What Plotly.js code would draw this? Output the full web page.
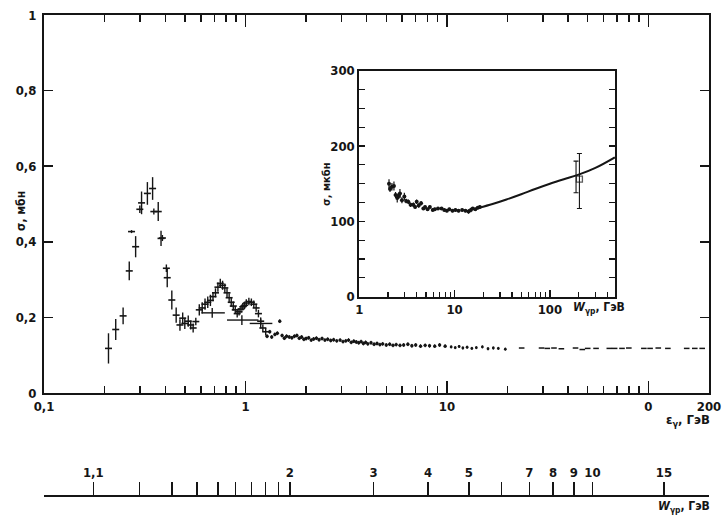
<!DOCTYPE html>
<html>
<head>
<meta charset="utf-8">
<script src="https://cdn.plot.ly/plotly-3.0.1.min.js"></script>
<style>html,body{margin:0;padding:0;background:#fff;}#chart{width:728px;height:532px;}</style>
</head>
<body>
<div id="chart"></div>
<script>
// ---------- data ----------
// main plot: low-energy resonance region, photon energy E (GeV), sigma (mb), error (mb)
const lowE = [0.209,0.227,0.247,0.265,0.272,0.285,0.299,0.305,0.326,0.346,0.351,0.369,0.381,0.387,0.405,0.409,0.431,0.453,0.473,0.488,0.50,0.52,0.535,0.55,0.567,0.59,0.61,0.63,0.65,0.67,0.69,0.71,0.73,0.75,0.77,0.79,0.81,0.83,0.85,0.87,0.89,0.91,0.93,0.95,0.97,0.99,1.01,1.04,1.07,1.10,1.13,1.16,1.19,1.22,1.26];
const lowS = [0.118,0.168,0.204,0.323,0.427,0.387,0.486,0.503,0.528,0.541,0.480,0.480,0.409,0.410,0.330,0.305,0.246,0.206,0.180,0.198,0.184,0.190,0.180,0.172,0.189,0.220,0.225,0.235,0.240,0.245,0.255,0.265,0.280,0.290,0.285,0.278,0.265,0.252,0.240,0.230,0.220,0.210,0.215,0.222,0.228,0.232,0.238,0.242,0.240,0.235,0.225,0.210,0.190,0.172,0.162];
const lowErr = [0.040,0.028,0.022,0.025,0.004,0.028,0.010,0.030,0.030,0.030,0.008,0.025,0.020,0.008,0.010,0.025,0.025,0.020,0.015,0.015,0.015,0.015,0.012,0.012,0.010,0.015,0.015,0.015,0.015,0.015,0.012,0.012,0.012,0.012,0.012,0.012,0.012,0.012,0.012,0.012,0.010,0.010,0.010,0.010,0.010,0.010,0.010,0.010,0.010,0.010,0.010,0.010,0.010,0.010,0.010];
// wide energy bins (horizontal bars)
const binE = [0.684,0.96,1.19];
const binS = [0.212,0.193,0.184];
const binLo = [0.605,0.81,1.05];
const binHi = [0.79,1.16,1.36];
// continuum 1.3 - 10 GeV
const tailE = [1.28,1.32,1.35,1.4,1.44,1.48,1.52,1.56,1.6,1.65,1.7,1.75,1.8,1.85,1.9,1.95,2.0,2.06,2.12,2.18,2.25,2.32,2.4,2.48,2.56,2.65,2.74,2.84,2.95,3.05,3.15,3.25,3.35,3.45,3.55,3.65,3.75,3.85,3.95,4.05,4.2,4.35,4.5,4.65,4.8,5.0,5.2,5.4,5.6,5.85,6.1,6.4,6.7,7.0,7.4,7.8,8.2,8.7,9.2,9.8];
const tailS = [0.150,0.162,0.148,0.155,0.158,0.190,0.152,0.145,0.150,0.148,0.146,0.150,0.152,0.145,0.148,0.142,0.144,0.146,0.140,0.143,0.145,0.141,0.144,0.140,0.142,0.139,0.141,0.138,0.140,0.136,0.138,0.140,0.134,0.137,0.135,0.133,0.136,0.131,0.134,0.130,0.133,0.129,0.131,0.128,0.130,0.127,0.129,0.126,0.128,0.126,0.127,0.129,0.125,0.127,0.124,0.126,0.125,0.124,0.127,0.124];
// sparse points 10 - 20 GeV
const midE = [10.5,11,11.5,12,12.6,13.3,14,15,16,17,18,19.5];
const midS = [0.122,0.120,0.123,0.119,0.121,0.118,0.120,0.122,0.117,0.119,0.118,0.116];
// dashes 20 - 200 GeV
const hiE = [23.5,29.5,31.5,34,37,43.5,47,50,55,64,68,74,80,95,102,112,125,155,170,185];
const hiS = [0.119,0.119,0.118,0.119,0.117,0.119,0.115,0.118,0.118,0.118,0.118,0.118,0.119,0.118,0.118,0.119,0.118,0.118,0.118,0.118];

// inset: W (GeV), sigma (microbarn)
const insW = [2.05,2.1,2.2,2.31,2.4,2.5,2.6,2.67,2.8,2.97,3.1,3.27,3.45,3.69,3.85,4.0,4.2,4.45,4.7,4.9,5.2,5.5,5.9,6.2,6.7,7.3,7.8,8.3,8.8,9.5,10.2,11,12,13,14,14.8,15.5,16.5,17.5,18.4];
const insS = [150,143,146,147,135,131,134,137,128,133,127,126,122,122,119,126,121,124,117,119,116,119,115,116,117,117,115,114,116,114,115,114,115,114,113,115,117,116,118,119];
const insErr = [6,4,5,6,4,6,4,6,4,5,3,3,3,3,2,3,3,3,2,2,2,2,2,2,2,2,2,2,2,2,2,2,2,2,3,3,2,2,2,2];
const curveW = [18,25,35,50,70,100,140,200,300,480];
const curveS = [118,123,129,136,143,150,156,162,171,185];
const highW = [204,188];
const highS = [156,159];
const highErrPlus = [34,21];
const highErrMinus = [39,21];

// bottom W scale
const wTickVals = [1.1,2,3,4,5,7,8,9,10,15];
const wTickText = ['1,1','2','3','4','5','7','8','9','10','15'];
const wMinorVals = [1.2,1.3,1.4,1.5,1.6,1.7,1.8,1.9,6];

// axis ticks
const xMajor = [0.1,1,10,100,200];
const xMajorText = ['0,1','1','10','0','200'];
const xMinor = [0.2,0.3,0.4,0.5,0.6,0.7,0.8,0.9,2,3,4,5,6,7,8,9,20,30,40,50,60,70,80,90];
const yMajor = [0,0.2,0.4,0.6,0.8,1];
const yMajorText = ['0','0,2','0,4','0,6','0,8','1'];
const insXMajor = [1,10,100];
const insXMinor = [2,3,4,5,6,7,8,9,20,30,40,50,60,70,80,90,200,300,400];
const insYMajor = [0,100,200,300];
const insYMinor = [25,50,75,125,150,175,225,250,275];

// ---------- helpers ----------
const MP = 0.938272;
const eFromW = w => (w*w - MP*MP)/(2*MP);
const BLK = '#151515';
const FONT = 'Liberation Sans Narrow, DejaVu Sans Condensed, Arial Narrow, sans-serif';

const traces = [
  {x: lowE, y: lowS, mode:'markers', type:'scatter', xaxis:'x', yaxis:'y',
   marker:{symbol:'line-ew-open', size:5, color:BLK, line:{width:1.6,color:BLK}},
   error_y:{type:'data', array: lowErr, width:0, thickness:1.4, color:BLK}, hoverinfo:'skip'},
  {x: binE, y: binS, mode:'markers', type:'scatter', xaxis:'x', yaxis:'y',
   marker:{symbol:'line-ns-open', size:7, color:BLK, line:{width:1.4,color:BLK}},
   error_x:{type:'data', symmetric:false, array: binHi.map((h,i)=>h-binE[i]), arrayminus: binLo.map((l,i)=>binE[i]-l), width:0, thickness:1.4, color:BLK}, hoverinfo:'skip'},
  {x: tailE, y: tailS, mode:'markers', type:'scatter', xaxis:'x', yaxis:'y',
   marker:{symbol:'circle', size:3.4, color:BLK},
   error_y:{type:'data', array: tailE.map(()=>0.005), width:0, thickness:1, color:BLK}, hoverinfo:'skip'},
  {x: midE, y: midS, mode:'markers', type:'scatter', xaxis:'x', yaxis:'y',
   marker:{symbol:'circle', size:2.8, color:BLK},
   error_y:{type:'data', array: midE.map(()=>0.004), width:0, thickness:1, color:BLK}, hoverinfo:'skip'},
  {x: hiE, y: hiS, mode:'markers', type:'scatter', xaxis:'x', yaxis:'y',
   marker:{symbol:'line-ew-open', size:4, color:BLK, line:{width:1.5,color:BLK}}, hoverinfo:'skip'},
  // inset
  {x: insW, y: insS, mode:'markers', type:'scatter', xaxis:'x2', yaxis:'y2',
   marker:{symbol:'circle', size:4, color:BLK},
   error_y:{type:'data', array: insErr, width:0, thickness:1.2, color:BLK}, hoverinfo:'skip'},
  {x: curveW, y: curveS, mode:'lines', type:'scatter', xaxis:'x2', yaxis:'y2',
   line:{color:BLK, width:2, shape:'spline'}, hoverinfo:'skip'},
  {x: highW, y: highS, mode:'markers', type:'scatter', xaxis:'x2', yaxis:'y2',
   marker:{symbol:['square-open','line-ew-open'], size:[6,0.1], color:BLK, line:{width:1.3,color:BLK}},
   error_y:{type:'data', symmetric:false, array: highErrPlus, arrayminus: highErrMinus, width:2.5, thickness:1.1, color:BLK}, hoverinfo:'skip'},
  // invisible trace to carry the W scale
  {x: wTickVals.map(eFromW), y: wTickVals.map(()=>0.5), mode:'markers', type:'scatter', xaxis:'x3', yaxis:'y',
   marker:{opacity:0, color:BLK}, hoverinfo:'skip'}
];

const tickFont = {family: FONT, size: 13, color: BLK, weight: 'bold'};
const L=44, R=19, T=15, B=10, W=728, H=532;
const pw = W-L-R, ph = H-T-B;
const px = x => (x-L)/pw;          // pixel -> paper x
const py = y => (H-B-y)/ph;        // pixel -> paper y

const layout = {
  width: W, height: H,
  margin: {l:L, r:R, t:T, b:B, pad:0},
  paper_bgcolor:'#fff', plot_bgcolor:'rgba(0,0,0,0)',
  showlegend:false,
  font: {family: FONT, color: BLK},
  xaxis: {type:'log', range:[-1, Math.log10(200)], domain:[0,1], anchor:'y',
    showline:true, linewidth:2, linecolor:BLK, mirror:'ticks', showgrid:false, zeroline:false,
    ticks:'inside', ticklen:12, tickwidth:1.5, tickcolor:BLK,
    tickmode:'array', tickvals: xMajor, ticktext: xMajorText, tickfont: tickFont,
    minor:{tickmode:'array', tickvals: xMinor, ticks:'inside', ticklen:7, tickwidth:1.5, tickcolor:BLK, showgrid:false}},
  yaxis: {range:[0,1], domain:[py(393), 1], anchor:'x',
    showline:true, linewidth:2, linecolor:BLK, mirror:'ticks', showgrid:false, zeroline:false,
    ticks:'inside', ticklen:9, tickwidth:1.5, tickcolor:BLK,
    tickmode:'array', tickvals: yMajor, ticktext: yMajorText, tickfont: tickFont, ticklabelstandoff:3},
  xaxis2: {type:'log', range:[0, 2.683], domain:[px(359.3), px(615)], anchor:'y2',
    showline:true, linewidth:2, linecolor:BLK, mirror:true, showgrid:false, zeroline:false,
    ticks:'inside', ticklen:7, tickwidth:1.3, tickcolor:BLK,
    tickmode:'array', tickvals: insXMajor, ticktext: insXMajor.map(String), tickfont: tickFont,
    minor:{tickmode:'array', tickvals: insXMinor, ticks:'inside', ticklen:5, tickwidth:1.2, tickcolor:BLK, showgrid:false}},
  yaxis2: {range:[0,300], domain:[py(296.7), py(70.7)], anchor:'x2',
    showline:true, linewidth:2, linecolor:BLK, mirror:'ticks', showgrid:false, zeroline:false,
    ticks:'inside', ticklen:6, tickwidth:1.3, tickcolor:BLK,
    tickmode:'array', tickvals: insYMajor, ticktext: insYMajor.map(String), tickfont: tickFont,
    minor:{tickmode:'array', tickvals: insYMinor, ticks:'inside', ticklen:6, tickwidth:1.2, tickcolor:BLK, showgrid:false}},
  xaxis3: {type:'log', range:[-1, Math.log10(200)], overlaying:'x', anchor:'free', position: py(496), side:'top',
    showline:true, linewidth:2, linecolor:BLK, showgrid:false, zeroline:false,
    ticks:'outside', ticklen:13, tickwidth:1.4, tickcolor:BLK,
    tickmode:'array', tickvals: wTickVals.map(eFromW), ticktext: wTickText, tickfont: tickFont,
    minor:{tickmode:'array', tickvals: wMinorVals.map(eFromW), ticks:'outside', ticklen:13, tickwidth:1.4, tickcolor:BLK, showgrid:false}},
  annotations: [
    {xref:'paper', yref:'paper', x:px(12), y:py(211), text:'σ, мбн', textangle:-90, showarrow:false,
     font:{family:FONT, size:12, color:BLK, weight:'bold'}},
    {xref:'paper', yref:'paper', x:px(326), y:py(160), text:'σ, мкбн', textangle:-90, showarrow:false,
     font:{family:FONT, size:11, color:BLK, weight:'bold'}},
    {xref:'paper', yref:'paper', x:px(627), y:py(308), xanchor:'right', text:'<i>W</i><sub>γp</sub>, ГэВ', showarrow:false,
     font:{family:FONT, size:12, color:BLK, weight:'bold'}},
    {xref:'paper', yref:'paper', x:px(712), y:py(431), xanchor:'right', text:'ε<sub>γ</sub>, ГэВ', showarrow:false,
     font:{family:FONT, size:13, color:BLK, weight:'bold'}},
    {xref:'paper', yref:'paper', x:px(712), y:py(517), xanchor:'right', text:'<i>W</i><sub>γp</sub>, ГэВ', showarrow:false,
     font:{family:FONT, size:12, color:BLK, weight:'bold'}}
  ]
};

Plotly.newPlot('chart', traces, layout, {staticPlot:true, displayModeBar:false});
</script>
</body>
</html>
